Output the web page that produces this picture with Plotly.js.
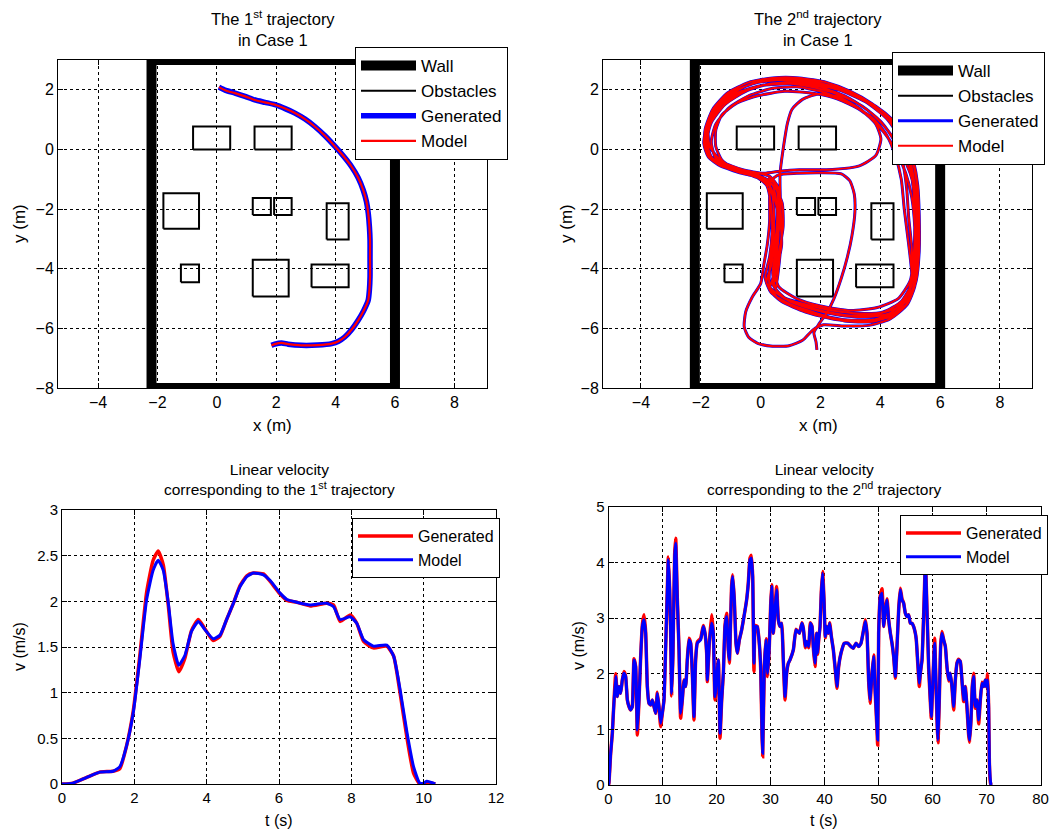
<!DOCTYPE html>
<html>
<head>
<meta charset="utf-8">
<script src="https://cdn.plot.ly/plotly-3.0.1.min.js"></script>
<style>html,body{margin:0;padding:0;background:#fff;}#chart{width:1053px;height:830px;}</style>
</head>
<body>
<div id="chart"></div>
<script>
// ---------- DATA ----------
// Wall (rectangle corners, m)
const wallX = [-2.2, 6, 6, -2.2, -2.2];
const wallY = [-8, -8, 3, 3, -8];
// Obstacles (rectangles)
const obsX0 = [-0.8, 1.27, -1.8, 1.21, 1.93, 3.7, -1.21, 1.21, 3.19];
const obsX1 = [0.45, 2.52, -0.6, 1.82, 2.52, 4.44, -0.6, 2.42, 4.44];
const obsY0 = [0, 0, -2.66, -2.2, -2.2, -3.02, -4.45, -4.93, -4.62];
const obsY1 = [0.77, 0.77, -1.47, -1.63, -1.63, -1.8, -3.86, -3.7, -3.86];

// 1st trajectory
const traj1X = [0.07, 0.3, 0.61, 0.95, 1.28, 1.62, 1.96, 2.3, 2.63, 2.97, 3.3, 3.65, 3.98, 4.27, 4.54, 4.76, 4.93, 5.04, 5.1, 5.14, 5.16, 5.16, 5.16, 5.14, 5.1, 4.95, 4.76, 4.55, 4.31, 4.1, 3.87, 3.4, 2.85, 2.4, 2.18, 1.95, 1.84];
const traj1Y = [2.09, 1.98, 1.89, 1.78, 1.66, 1.58, 1.5, 1.37, 1.22, 1.02, 0.77, 0.45, 0.1, -0.23, -0.58, -0.95, -1.36, -1.75, -2.14, -2.6, -3.04, -3.65, -4.27, -4.7, -5.05, -5.4, -5.73, -6.03, -6.29, -6.43, -6.51, -6.56, -6.57, -6.53, -6.49, -6.53, -6.57];

// 2nd trajectory
const traj2X = [
 1.88,1.85,1.78,1.95,2.2,2.45,2.7,2.9,3.05,3.15,3.13,2.98,2.7,2.0,1.2,0.6,0.35,
 0.3,0.3,0.22,0.1,0.0,-0.28,-0.5,-0.55,-0.4,-0.1,0.4,0.95,1.4,1.75,2.1,
 2.8,3.6,4.3,4.8,5.08,5.2,5.25,5.25,5.2,5.05,4.75,4.3,3.7,3.0,2.2,1.3,0.4,-0.4,-1.1,-1.6,-1.85,-1.88,-1.65,-1.2,-0.6,-0.1,0.25,0.4,0.45,0.42,0.3,0.3,0.6,1.2,2.0,2.9,3.8,4.5,
 4.95,5.05,4.95,4.8,4.7,4.5,4.2,3.75,3.1,2.4,1.6,0.8,-0.1,-0.8,-1.3,-1.5,-1.5,-1.3,-0.9,-0.4,0.05,0.35,0.55,0.6,0.5,0.4,0.75,1.5,2.4,3.3,4.1,4.7,
 5.05,5.18,5.22,5.18,5.05,4.8,4.4,3.8,3.1,2.3,1.4,0.5,-0.3,-1.0,-1.55,-1.82,-1.8,-1.45,-0.9,-0.3,0.15,0.45,0.65,0.7,0.55,0.45,0.9,1.7,2.6,3.5,4.3,4.85,
 5.05,5.05,4.95,4.88,4.75,4.45,4.0,3.4,2.7,1.9,1.0,0.1,-0.7,-1.3,-1.65,-1.78,-1.68,-1.3,-0.7,-0.15,0.2,0.35,0.38,0.3,0.15,0.35,1.0,1.9,2.8,3.7,4.45,4.95,
 5.2,5.3,5.3,5.25,5.1,4.85,4.4,3.85,3.2,2.4,1.5,0.6,-0.2,-0.95,-1.5,-1.8,-1.9,-1.75,-1.35,-0.8,-0.2,0.2,0.5,0.72,0.75,0.6,0.45,0.3,0.7,1.5,2.5,3.5,4.4,4.9,
 5.15,5.25,5.28,5.2,5.0,4.7,4.2,3.6,2.9,2.0,1.1,0.3,-0.5,-1.2,-1.65,-1.8,-1.65,-1.2,-0.6,0.0,0.4,0.55,0.5,0.35,0.2,0.8,1.8,2.8,3.8,4.55,5.0,5.15,5.15,5.05,4.85,4.55,4.1,3.5,2.8,2.0,1.2,0.4,-0.4,-1.05,-1.5,-1.65,-1.5,-1.0,-0.3,0.3,0.6,0.65,0.55,0.4,0.5,
 0.62,0.7,0.66,0.65,0.78,0.9,1.05,1.4,1.92,2.6,3.38,3.85,4.02,3.85,3.3,2.4,1.3,0.7,0.1,-0.6,-1.3,-1.7,-1.75,-1.45,-0.9,-0.1,0.8,1.7,2.6,3.5,4.2,4.65,4.95,5.1,5.15,5.12,5.0,4.6,3.9,3.0,2.0,1.2,0.6,0.45,0.55,0.6,0.5,0.25
];
const traj2Y = [
 -6.72,-6.45,-6.15,-5.85,-5.5,-5.0,-4.3,-3.6,-2.9,-2.1,-1.5,-1.05,-0.82,-0.78,-0.8,-0.85,-1.05,
 -1.6,-2.4,-3.2,-3.9,-4.5,-4.95,-5.45,-5.95,-6.3,-6.5,-6.6,-6.58,-6.4,-6.05,-5.88,
 -5.92,-5.9,-5.7,-5.3,-4.7,-4.0,-3.0,-2.0,-1.0,-0.3,0.45,1.05,1.55,1.95,2.25,2.4,2.4,2.25,1.9,1.35,0.7,0.1,-0.3,-0.55,-0.72,-0.85,-1.1,-1.6,-2.4,-3.2,-4.0,-4.6,-5.0,-5.3,-5.55,-5.72,-5.7,-5.45,
 -4.95,-4.2,-3.2,-2.0,-1.0,-0.2,0.5,1.05,1.45,1.75,1.9,1.95,1.8,1.55,1.15,0.65,0.1,-0.35,-0.62,-0.8,-0.95,-1.3,-2.0,-2.9,-3.8,-4.5,-4.95,-5.2,-5.4,-5.5,-5.45,-5.1,
 -4.5,-3.6,-2.6,-1.5,-0.6,0.2,0.85,1.4,1.85,2.15,2.33,2.35,2.2,1.85,1.3,0.6,-0.05,-0.45,-0.7,-0.88,-1.05,-1.5,-2.3,-3.2,-4.0,-4.6,-5.05,-5.35,-5.55,-5.62,-5.5,-5.0,
 -4.3,-3.3,-2.3,-1.3,-0.45,0.35,0.95,1.45,1.8,2.05,2.2,2.15,1.9,1.5,0.95,0.35,-0.2,-0.55,-0.78,-0.92,-1.2,-1.9,-2.8,-3.6,-4.3,-4.8,-5.2,-5.5,-5.75,-5.78,-5.55,-5.1,
 -4.4,-3.4,-2.2,-1.2,-0.35,0.4,1.0,1.45,1.8,2.1,2.28,2.33,2.22,1.92,1.45,0.85,0.2,-0.25,-0.55,-0.72,-0.85,-1.0,-1.3,-1.8,-2.6,-3.5,-4.2,-4.7,-5.1,-5.45,-5.7,-5.75,-5.6,-5.2,
 -4.6,-3.7,-2.6,-1.6,-0.8,-0.1,0.7,1.3,1.75,2.1,2.25,2.2,1.95,1.5,0.9,0.3,-0.25,-0.6,-0.8,-0.95,-1.2,-2.0,-3.0,-3.9,-4.5,-5.0,-5.35,-5.55,-5.55,-5.3,-4.7,-3.8,-2.6,-1.6,-0.8,-0.1,0.6,1.2,1.65,1.95,2.1,2.05,1.8,1.4,0.85,0.25,-0.3,-0.62,-0.75,-0.9,-1.3,-2.2,-3.2,-4.1,-4.7,
 -3.8,-2.8,-1.8,-0.8,0.2,0.9,1.35,1.68,1.86,1.77,1.32,0.85,0.35,-0.2,-0.55,-0.67,-0.68,-0.72,-0.8,-0.68,-0.4,0.1,0.8,1.4,1.85,2.12,2.25,2.2,2.0,1.6,1.05,0.4,-0.4,-1.3,-2.4,-3.5,-4.4,-5.0,-5.3,-5.4,-5.25,-5.0,-4.6,-4.0,-3.0,-2.0,-1.2,-0.95
];

// Linear velocity, 1st trajectory
const t1 = [0, 0.3, 0.67, 1.04, 1.41, 1.6, 1.78, 1.97, 2.15, 2.34, 2.52, 2.66, 2.8, 2.94, 3.07, 3.23, 3.4, 3.58, 3.77, 3.95, 4.18, 4.37, 4.55, 4.74, 4.92, 5.11, 5.29, 5.57, 5.75, 6.03, 6.22, 6.49, 6.86, 7.32, 7.51, 7.69, 7.97, 8.15, 8.34, 8.61, 8.98, 9.17, 9.35, 9.54, 9.72, 9.89, 10.0, 10.09, 10.32];
const v1Model = [0, 0.01, 0.07, 0.13, 0.14, 0.19, 0.41, 0.78, 1.36, 2.02, 2.34, 2.45, 2.34, 1.98, 1.54, 1.3, 1.41, 1.67, 1.78, 1.69, 1.59, 1.63, 1.8, 1.98, 2.16, 2.27, 2.31, 2.29, 2.23, 2.09, 2.02, 1.99, 1.96, 1.98, 1.94, 1.8, 1.83, 1.76, 1.58, 1.51, 1.52, 1.4, 1.03, 0.56, 0.19, 0.01, 0.01, 0.03, 0];
const v1Gen = [0, 0.01, 0.07, 0.13, 0.14, 0.17, 0.41, 0.8, 1.4, 2.1, 2.45, 2.55, 2.4, 1.95, 1.45, 1.23, 1.38, 1.68, 1.8, 1.7, 1.57, 1.62, 1.8, 1.98, 2.17, 2.28, 2.31, 2.3, 2.22, 2.08, 2.01, 1.99, 1.95, 1.98, 1.96, 1.78, 1.85, 1.76, 1.56, 1.49, 1.51, 1.4, 0.99, 0.5, 0.12, 0, 0, 0.02, 0];

// Linear velocity, 2nd trajectory
const t2 = [0, 0.09, 0.4, 0.71, 0.9, 1.33, 1.64, 1.94, 2.25, 2.56, 2.87, 3.18, 3.49, 3.8, 4.1, 4.41, 4.72, 5.03, 5.34, 5.65, 5.96, 6.27, 6.57, 6.88, 7.19, 7.5, 7.81, 8.12, 8.43, 8.73, 9.04, 9.35, 9.66, 9.97, 10.28, 10.59, 10.9, 11.08, 11.33, 11.51, 11.7, 11.94, 12.25, 12.44, 12.75, 13.06, 13.36, 13.67, 13.98, 14.29, 14.6, 14.91, 15.22, 15.52, 15.83, 16.14, 16.45, 17.07,
 17.56, 17.87, 18.18, 18.3, 18.67, 19.1, 19.41, 19.72, 20.34, 20.65, 20.96, 21.27, 21.57, 21.88, 22.19, 22.38, 22.81, 23.0, 23.3, 23.61, 23.86, 24.23, 24.66, 25.09, 25.58, 25.9, 26.2, 26.45, 26.7, 26.94, 27.19, 27.56, 27.87, 28.18, 28.43, 28.55, 28.86, 29.17, 29.48, 29.78, 30.03, 30.22, 30.52, 30.83, 31.14, 31.45, 31.76, 32.07, 32.38, 32.69, 32.99, 33.3, 33.61, 34.23, 34.72,
 35.34, 35.83, 36.08, 36.45, 36.7, 37.07, 37.38, 37.69, 37.93, 38.24, 38.55, 38.73, 38.92, 39.17, 39.41, 39.66, 39.91, 40.15, 40.4, 40.71, 40.96, 41.27, 41.64, 42.01, 42.31, 42.62, 43.05, 43.67, 44.29, 44.91, 45.34, 45.83, 46.33, 46.76, 47.25, 47.56, 47.87, 48.18, 48.43, 48.8, 49.11, 49.35, 49.66, 49.85, 50.03, 50.34, 50.65, 50.96, 51.27, 51.57, 51.88, 52.19,
 52.5, 52.81, 53.12, 53.43, 53.74, 54.04, 54.35, 54.66, 54.97, 55.28, 55.59, 55.89, 56.2, 56.51, 56.82, 57.0, 57.25, 57.56, 57.75, 58.06, 58.36, 58.55, 58.67, 58.98, 59.29, 59.6, 59.78, 60.03, 60.28, 60.4, 60.65, 60.89, 61.02, 61.26, 61.51, 61.76, 62.07, 62.38, 62.69, 63.0, 63.3, 63.61, 63.92, 64.23, 64.54, 64.85, 65.16, 65.46, 65.77, 66.08, 66.39, 66.7, 66.88, 67.13, 67.38, 67.62, 67.93, 68.24, 68.55, 68.86, 69.17, 69.48, 69.78, 69.97, 70.22, 70.4, 70.53, 70.71, 70.83];
const v2Model = [0, 0.05, 0.57, 0.93, 1.29, 1.95, 1.59, 1.77, 1.65, 1.89, 2.01, 1.95, 1.53, 1.41, 1.35, 1.41, 2.25, 2.13, 0.99, 1.53, 2.31, 2.85, 2.97, 2.73, 1.77, 1.47, 1.44, 1.53, 1.41, 1.29, 1.65, 1.41, 1.11, 1.29, 1.53, 2.49, 3.51, 4.05, 3.51, 2.73, 1.65, 2.37, 4.11, 4.35, 3.33, 2.43, 1.29, 1.53, 1.89, 1.77, 2.25, 2.61, 2.55, 2.01, 1.23, 2.25, 2.55, 2.61,
 2.85, 2.73, 2.37, 1.89, 2.55, 2.91, 2.73, 1.59, 2.25, 0.93, 1.53, 2.01, 2.85, 3.03, 2.43, 2.25, 3.57, 3.75, 3.33, 2.55, 2.37, 2.61, 2.79, 3.03, 3.33, 3.63, 4.05, 4.08, 3.75, 2.19, 2.85, 2.85, 2.61, 2.13, 0.93, 0.57, 2.13, 2.61, 2.01, 2.49, 3.21, 3.57, 2.73, 3.15, 3.51, 2.97, 2.85, 2.91, 2.25, 1.59, 2.01, 2.19, 2.25, 2.43, 2.79,
 2.73, 2.91, 2.82, 2.49, 2.58, 2.49, 2.91, 2.85, 2.49, 2.19, 2.73, 2.37, 2.61, 2.85, 3.45, 3.81, 3.33, 2.67, 2.85, 2.73, 2.91, 2.67, 2.43, 2.07, 1.77, 2.13, 2.37, 2.55, 2.55, 2.49, 2.46, 2.55, 2.49, 2.55, 2.79, 2.94, 2.73, 1.89, 1.53, 2.01, 2.31, 1.77, 1.17, 0.81, 2.73, 3.39, 3.45, 2.85, 3.15, 3.33, 2.97, 2.73,
 2.55, 2.31, 1.95, 2.49, 3.15, 3.51, 3.33, 3.27, 3.09, 3.03, 3.06, 2.91, 2.91, 2.85, 2.73, 2.61, 2.25, 1.83, 2.01, 2.25, 3.03, 3.63, 4.1, 3.15, 2.13, 1.53, 1.23, 1.77, 2.37, 2.55, 1.83, 1.05, 0.81, 1.53, 2.49, 2.73, 2.61, 2.49, 2.13, 1.89, 2.01, 1.77, 1.41, 1.89, 2.19, 2.25, 2.22, 1.89, 1.53, 1.77, 1.41, 0.93, 0.81, 1.17, 1.77, 1.95, 1.41, 1.53, 1.17, 1.53, 1.83, 1.77, 1.89, 1.77, 1.89, 1.41, 0.45, 0.09, 0];
const v2Gen = [0, 0.05, 0.57, 0.93, 1.29, 2.0, 1.59, 1.77, 1.65, 1.89, 2.04, 1.95, 1.53, 1.41, 1.35, 1.41, 2.27, 2.13, 0.9, 1.53, 2.31, 2.88, 3.06, 2.75, 1.77, 1.47, 1.44, 1.53, 1.41, 1.29, 1.67, 1.41, 1.05, 1.29, 1.53, 2.49, 3.55, 4.1, 3.51, 2.73, 1.6, 2.37, 4.15, 4.44, 3.33, 2.43, 1.2, 1.53, 1.89, 1.77, 2.27, 2.64, 2.55, 2.01, 1.17, 2.27, 2.57, 2.64,
 2.87, 2.73, 2.37, 1.86, 2.55, 3.06, 2.73, 1.53, 2.25, 0.84, 1.53, 2.01, 2.87, 3.09, 2.43, 2.19, 3.6, 3.78, 3.33, 2.55, 2.37, 2.61, 2.79, 3.03, 3.33, 3.65, 4.08, 4.13, 3.75, 2.04, 2.87, 2.85, 2.61, 2.1, 0.9, 0.51, 2.13, 2.63, 1.95, 2.49, 3.23, 3.6, 2.73, 3.17, 3.57, 2.97, 2.85, 2.91, 2.22, 1.53, 2.01, 2.19, 2.25, 2.43, 2.8,
 2.73, 2.92, 2.82, 2.47, 2.58, 2.47, 2.92, 2.85, 2.47, 2.13, 2.73, 2.35, 2.61, 2.85, 3.47, 3.84, 3.33, 2.65, 2.85, 2.73, 2.92, 2.67, 2.43, 2.05, 1.74, 2.13, 2.37, 2.55, 2.55, 2.49, 2.46, 2.55, 2.49, 2.55, 2.8, 2.97, 2.73, 1.86, 1.47, 2.01, 2.34, 1.74, 1.12, 0.72, 2.73, 3.41, 3.53, 2.85, 3.17, 3.35, 2.97, 2.73,
 2.55, 2.31, 1.92, 2.49, 3.17, 3.54, 3.35, 3.27, 3.09, 3.03, 3.06, 2.91, 2.91, 2.85, 2.73, 2.61, 2.22, 1.77, 2.01, 2.25, 3.05, 3.65, 4.1, 3.15, 2.1, 1.5, 1.2, 1.77, 2.4, 2.64, 1.8, 1.02, 0.76, 1.53, 2.51, 2.76, 2.61, 2.49, 2.1, 1.87, 2.01, 1.75, 1.35, 1.89, 2.2, 2.26, 2.22, 1.87, 1.5, 1.77, 1.38, 0.9, 0.77, 1.17, 1.79, 2.01, 1.38, 1.53, 1.1, 1.53, 1.85, 1.77, 1.89, 1.77, 2.0, 1.38, 0.4, 0.05, 0];

// Tick labels
const mapTicks = [-4, -2, 0, 2, 4, 6, 8];
const mapYTicks = [-8, -6, -4, -2, 0, 2];

// ---------- BUILD ----------
const FONT = '"Liberation Sans", Arial, Helvetica, sans-serif';
const obsPX = [], obsPY = [];
for (let i = 0; i < obsX0.length; i++) {
  obsPX.push(obsX0[i], obsX1[i], obsX1[i], obsX0[i], obsX0[i], null);
  obsPY.push(obsY0[i], obsY0[i], obsY1[i], obsY1[i], obsY0[i], null);
}

function mapTraces(xa, ya, lg, tx, ty, genW, modW) {
  return [
    {x: wallX, y: wallY, xaxis: xa, yaxis: ya, legend: lg, name: 'Wall', mode: 'lines', line: {color: '#000', width: 10}},
    {x: obsPX, y: obsPY, xaxis: xa, yaxis: ya, legend: lg, name: 'Obstacles', mode: 'lines', connectgaps: false, line: {color: '#000', width: 2}},
    {x: tx, y: ty, xaxis: xa, yaxis: ya, legend: lg, name: 'Generated', mode: 'lines', line: {color: '#0000ff', width: genW, shape: 'spline', smoothing: 0.6}},
    {x: tx, y: ty, xaxis: xa, yaxis: ya, legend: lg, name: 'Model', mode: 'lines', line: {color: '#ff0000', width: modW, shape: 'spline', smoothing: 0.6}}
  ];
}

const data = [].concat(
  mapTraces('x', 'y', 'legend', traj1X, traj1Y, 5.5, 2.2),
  mapTraces('x2', 'y2', 'legend2', traj2X, traj2Y, 3, 2),
  [
    {x: t1, y: v1Gen, xaxis: 'x3', yaxis: 'y3', legend: 'legend3', name: 'Generated', mode: 'lines', line: {color: '#ff0000', width: 3.5, shape: 'spline', smoothing: 0.5}},
    {x: t1, y: v1Model, xaxis: 'x3', yaxis: 'y3', legend: 'legend3', name: 'Model', mode: 'lines', line: {color: '#0000ff', width: 3, shape: 'spline', smoothing: 0.5}},
    {x: t2, y: v2Gen, xaxis: 'x4', yaxis: 'y4', legend: 'legend4', name: 'Generated', mode: 'lines', line: {color: '#ff0000', width: 3.5, shape: 'spline', smoothing: 0.4}},
    {x: t2, y: v2Model, xaxis: 'x4', yaxis: 'y4', legend: 'legend4', name: 'Model', mode: 'lines', line: {color: '#0000ff', width: 3, shape: 'spline', smoothing: 0.4}}
  ]
);

function ax(extra, fs) {
  return Object.assign({
    showgrid: true, gridcolor: '#000', griddash: '3px,3px', gridwidth: 1,
    zeroline: false, showline: true, linecolor: '#000', linewidth: 1, mirror: 'ticks',
    ticks: 'inside', ticklen: 5, tickcolor: '#000',
    tickfont: {family: FONT, size: fs, color: '#000'}, fixedrange: true
  }, extra);
}

function leg(x, y, fs) {
  return {x: x, y: y, xanchor: 'left', yanchor: 'top', bgcolor: '#fff', bordercolor: '#000', borderwidth: 1,
          font: {family: FONT, size: fs, color: '#000'}, itemwidth: 55, tracegroupgap: 0};
}

function ann(text, x, y, fs, extra) {
  return Object.assign({text: text, x: x, y: y, xref: 'paper', yref: 'paper', showarrow: false,
    xanchor: 'center', align: 'center',
    font: {family: FONT, size: fs, color: '#000'}}, extra || {});
}

const W = 1053, H = 830;
const px = v => v / W, py = v => 1 - v / H;

const layout = {
  width: W, height: H,
  margin: {l: 0, r: 0, t: 0, b: 0},
  paper_bgcolor: '#fff', plot_bgcolor: '#fff',
  font: {family: FONT, color: '#000'},
  showlegend: true,
  xaxis: ax({domain: [px(58), px(487)], range: [-5.35, 9.1], tickvals: mapTicks, anchor: 'y'}, 16),
  yaxis: ax({domain: [py(388), py(60)], range: [-8, 3], tickvals: mapYTicks, anchor: 'x'}, 16),
  xaxis2: ax({domain: [px(603), px(1032)], range: [-5.27, 9.07], tickvals: mapTicks, anchor: 'y2'}, 16),
  yaxis2: ax({domain: [py(388), py(60)], range: [-8, 3], tickvals: mapYTicks, anchor: 'x2'}, 16),
  xaxis3: ax({domain: [px(62), px(496)], range: [0, 12], dtick: 2, anchor: 'y3'}, 15),
  yaxis3: ax({domain: [py(784), py(510)], range: [0, 3], dtick: 0.5, anchor: 'x3'}, 15),
  xaxis4: ax({domain: [px(608.5), px(1040.5)], range: [0, 80], dtick: 10, anchor: 'y4'}, 15),
  yaxis4: ax({domain: [py(785), py(507)], range: [0, 5], dtick: 1, anchor: 'x4'}, 15),
  legend: leg(px(355), py(47), 17),
  legend2: leg(px(892), py(52), 17),
  legend3: leg(px(352), py(518), 16),
  legend4: leg(px(900), py(515), 16),
  annotations: [
    ann('The 1<sup>st</sup> trajectory<br>in Case 1', px(272.5), py(51), 16.5, {yanchor: 'bottom'}),
    ann('The 2<sup>nd</sup> trajectory<br>in Case 1', px(818), py(51), 16.5, {yanchor: 'bottom'}),
    ann('Linear velocity<br>corresponding to the 1<sup>st</sup> trajectory', px(279), py(500), 15.5, {yanchor: 'bottom'}),
    ann('Linear velocity<br>corresponding to the 2<sup>nd</sup> trajectory', px(824), py(500), 15.5, {yanchor: 'bottom'}),
    ann('x (m)', px(272.5), py(425), 17, {yanchor: 'middle'}),
    ann('x (m)', px(818), py(425), 17, {yanchor: 'middle'}),
    ann('t (s)', px(279), py(820), 16, {yanchor: 'middle'}),
    ann('t (s)', px(824), py(820), 16, {yanchor: 'middle'}),
    ann('y (m)', px(19), py(224), 17, {textangle: -90, yanchor: 'middle'}),
    ann('y (m)', px(566), py(224), 17, {textangle: -90, yanchor: 'middle'}),
    ann('v (m/s)', px(19), py(647), 16, {textangle: -90, yanchor: 'middle'}),
    ann('v (m/s)', px(578), py(646), 16, {textangle: -90, yanchor: 'middle'})
  ]
};

Plotly.newPlot('chart', data, layout, {staticPlot: true, displayModeBar: false});
</script>
</body>
</html>
